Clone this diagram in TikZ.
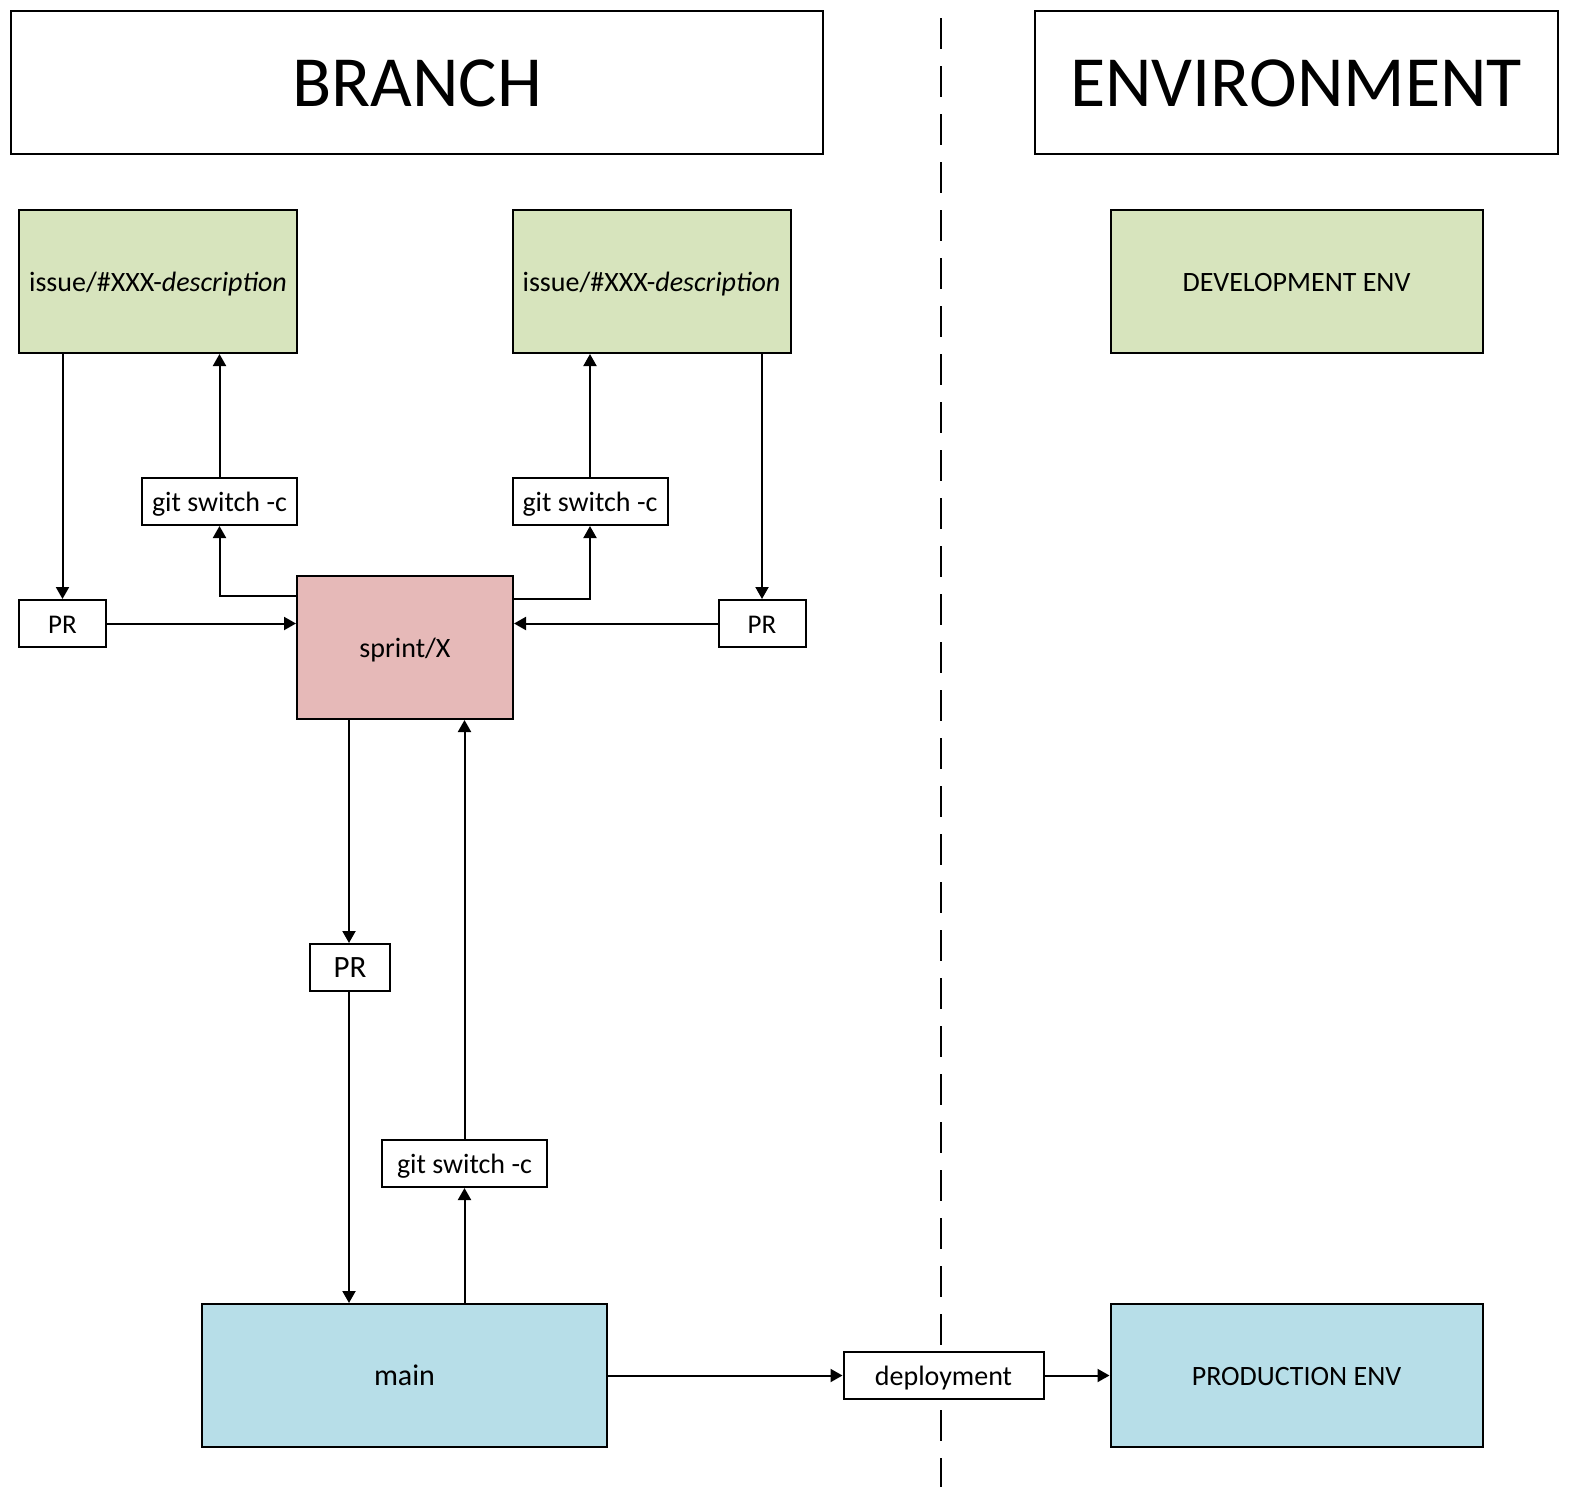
\documentclass[tikz,border=0pt]{standalone}
\usepackage{fontspec}
\setmainfont{Carlito}
\usetikzlibrary{arrows.meta,calc}
\definecolor{issuegreen}{HTML}{D7E4BD}
\definecolor{sprintpink}{HTML}{E6B9B8}
\definecolor{mainblue}{HTML}{B7DEE8}
\tikzset{
  box/.style={draw=black, line width=1pt, fill=white, inner sep=0pt, align=center,
    text height=13.3pt, text depth=3.5pt,
    font=\fontsize{14}{16}\selectfont},
  bigbox/.style={box, minimum height=71.5pt},
  smallbox/.style={box, minimum height=23.5pt},
  titlebox/.style={box, minimum height=71.5pt, text height=24pt, text depth=0pt,
    font=\fontsize{36}{40}\selectfont},
  arr/.style={line width=1pt, -{Triangle[length=6pt,width=6.5pt]}},
  divider/.style={line width=1pt, dash pattern=on 15.5pt off 8.5pt}
}
\begin{document}
\begin{tikzpicture}[x=0.5pt,y=-0.5pt]
\useasboundingbox (0,0) rectangle (1570,1505);
% divider
\coordinate (d1) at (941,18);
\coordinate (d2) at (941,1487);
\draw[divider] (d1) -- (d2);
% titles
\node[titlebox, minimum width=406pt] (branch) at (417,82.5) {BRANCH};
\node[titlebox, minimum width=261.5pt] (env) at (1296,82.5) {ENVIRONMENT};
% issue boxes
\node[bigbox, fill=issuegreen, minimum width=139pt] (issue1) at (158,281.5) {issue/\#XXX-\textit{description}};
\node[bigbox, fill=issuegreen, minimum width=139pt] (issue2) at (651.5,281.5) {issue/\#XXX-\textit{description}};
\node[bigbox, fill=issuegreen, minimum width=186pt] (dev) at (1296.5,281.5) {DEVELOPMENT ENV};
% git switch
\node[smallbox, minimum width=77.5pt] (git1) at (219.5,501.5) {git switch -c};
\node[smallbox, minimum width=77.5pt] (git2) at (590,501.5) {git switch -c};
% PR
\node[smallbox, minimum width=43.5pt, font=\fontsize{13.5}{15}\selectfont] (prL) at (62.5,623.5) {PR};
\node[smallbox, minimum width=43.5pt, font=\fontsize{13.5}{15}\selectfont] (prR) at (762,623.5) {PR};
% sprint
\node[bigbox, fill=sprintpink, minimum width=108pt] (sprint) at (405,647.5) {sprint/X};
% middle PR
\node[smallbox, minimum width=40pt, font=\fontsize{15.5}{17}\selectfont] (prM) at (350,967.5) {PR};
\node[smallbox, minimum width=82.5pt] (git3) at (464.5,1163.5) {git switch -c};
% main
\node[bigbox, fill=mainblue, minimum width=202.5pt, font=\fontsize{15}{17}\selectfont] (main) at (404.5,1375.5) {main};
\node[smallbox, minimum width=100pt] (deploy) at (943.5,1375.5) {deployment};
\node[bigbox, fill=mainblue, minimum width=186pt] (prod) at (1296.5,1375.5) {PRODUCTION ENV};
% connectors
\draw[arr] (issue1.south -| prL) -- (prL.north);
\draw[arr] (git1.north) -- (git1.north |- issue1.south);
\draw[arr] ([yshift=-10.5pt]sprint.north west) -| (git1.south);
\draw[arr] ([yshift=-12pt]sprint.north east) -| (git2.south);
\draw[arr] (git2.north) -- (git2.north |- issue2.south);
\draw[arr] (issue2.south -| prR) -- (prR.north);
\draw[arr] (prL.east) -- (prL.east -| sprint.west);
\draw[arr] (prR.west) -- (prR.west -| sprint.east);
\draw[arr] ([xshift=-0.5pt]sprint.south -| prM) -- ([xshift=-0.5pt]prM.north);
\draw[arr] ([xshift=-0.5pt]prM.south) -- ([xshift=-0.5pt]prM.south |- main.north);
\draw[arr] (main.north -| git3) -- (git3.south);
\draw[arr] (git3.north) -- (git3.north |- sprint.south);
\draw[arr] (main.east) -- (deploy.west);
\draw[arr] (deploy.east) -- (prod.west);
\end{tikzpicture}
\end{document}
